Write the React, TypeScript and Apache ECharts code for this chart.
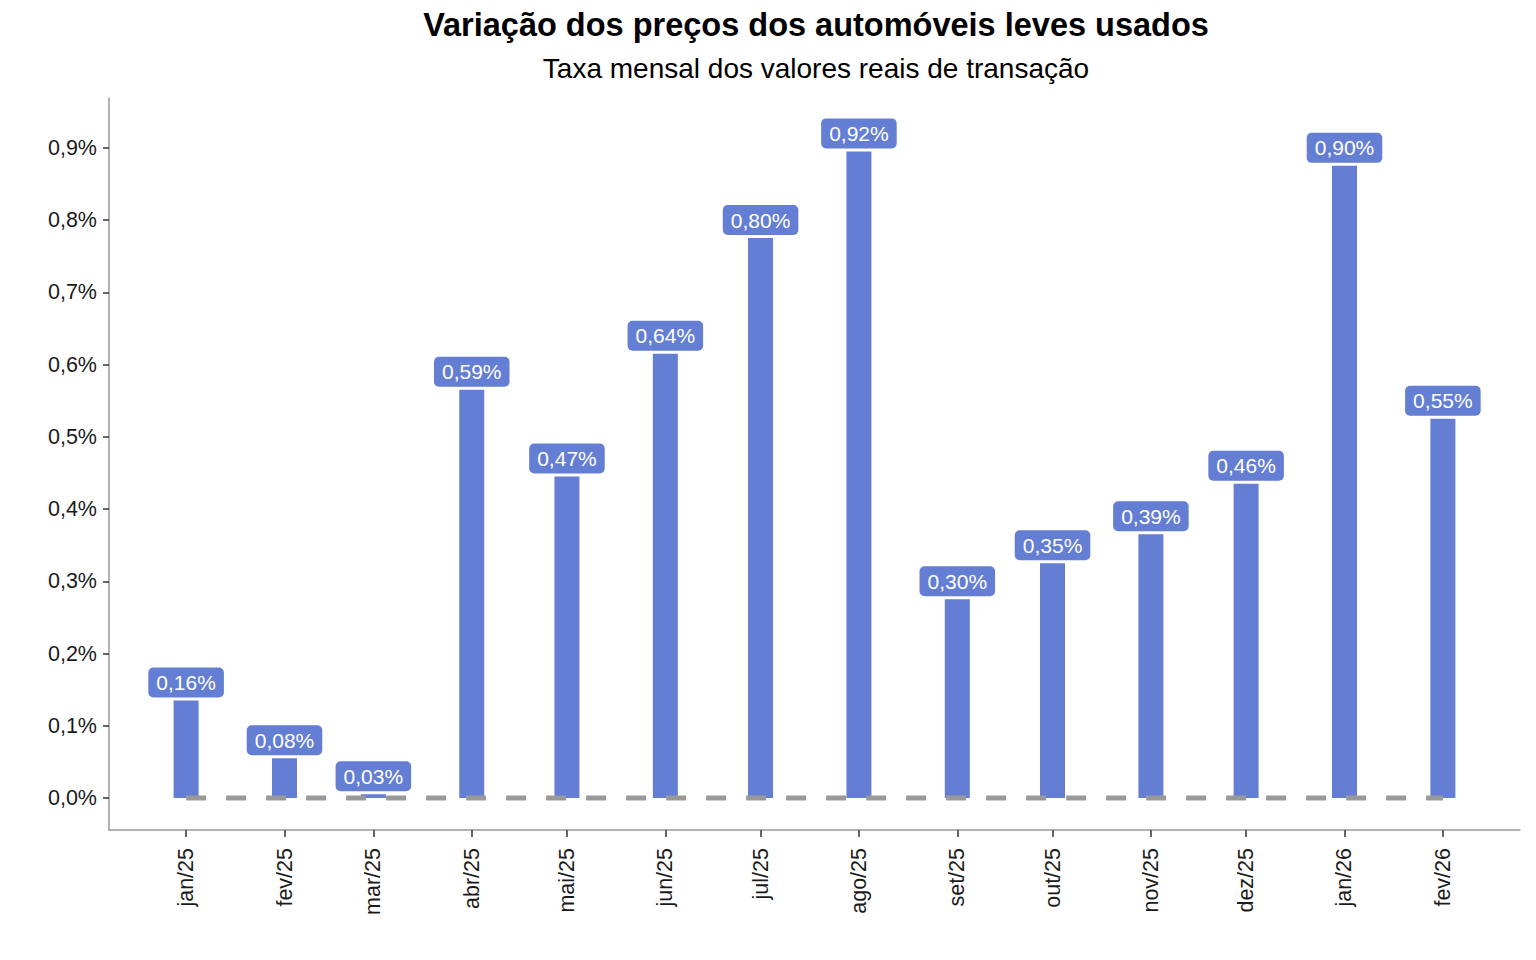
import React, { useEffect, useRef } from "react";
import * as echarts from "echarts";

const TITLE = "Variação dos preços dos automóveis leves usados";
const SUBTITLE = "Taxa mensal dos valores reais de transação";

const monthLabels = [
  "jan/25", "fev/25", "mar/25", "abr/25", "mai/25", "jun/25", "jul/25",
  "ago/25", "set/25", "out/25", "nov/25", "dez/25", "jan/26", "fev/26",
];
const monthDates = [
  "2025-01-01", "2025-02-01", "2025-03-01", "2025-04-01", "2025-05-01", "2025-06-01", "2025-07-01",
  "2025-08-01", "2025-09-01", "2025-10-01", "2025-11-01", "2025-12-01", "2026-01-01", "2026-02-01",
];
const values = [0.16, 0.08, 0.03, 0.59, 0.47, 0.64, 0.80, 0.92, 0.30, 0.35, 0.39, 0.46, 0.90, 0.55];
const yTicks = [0, 0.1, 0.2, 0.3, 0.4, 0.5, 0.6, 0.7, 0.8, 0.9];

const FONT = "'Liberation Sans', Arial, sans-serif";
const BAR = "#637ed3";
const DAY = 86400000;

export default function App() {
  const ref = useRef<HTMLDivElement>(null);
  useEffect(() => {
    if (!ref.current) return;
    const chart = echarts.init(ref.current, null, { renderer: "svg" });
    const ts = monthDates.map((d) => Date.parse(d + "T00:00:00Z"));
    const labelMap: Record<number, string> = {};
    ts.forEach((t, i) => (labelMap[t] = monthLabels[i]));
    const fmtPct = (v: number, d: number) => v.toFixed(d).replace(".", ",") + "%";

    chart.setOption({
      animation: false,
      backgroundColor: "#ffffff",
      textStyle: { fontFamily: FONT },
      graphic: [
        {
          type: "text",
          x: 816,
          y: 25,
          style: {
            text: TITLE,
            fontFamily: FONT,
            fontSize: 32.5,
            fontWeight: "bold",
            fill: "#000",
            textAlign: "center",
            textVerticalAlign: "middle",
          },
        },
        {
          type: "text",
          x: 816,
          y: 68,
          style: {
            text: SUBTITLE,
            fontFamily: FONT,
            fontSize: 28,
            fill: "#000",
            textAlign: "center",
            textVerticalAlign: "middle",
          },
        },
      ],
      grid: { left: 109, right: 16, top: 98, bottom: 130, outerBoundsMode: "none" },
      xAxis: {
        type: "value",
        min: ts[0] - 24.3 * DAY,
        max: ts[ts.length - 1] + 24.3 * DAY,
        splitLine: { show: false },
        axisLine: { show: true, onZero: false, lineStyle: { color: "#999999", width: 1.5 } },
        axisTick: { show: true, customValues: ts, length: 7, lineStyle: { color: "#333333", width: 1.5 } },
        axisLabel: {
          customValues: ts,
          rotate: 90,
          margin: 18,
          fontFamily: FONT,
          fontSize: 21.5,
          color: "#1a1a1a",
          formatter: (v: number) => labelMap[v] ?? "",
        },
      },
      yAxis: {
        type: "value",
        min: -0.0443,
        max: 0.969,
        splitLine: { show: false },
        axisLine: { show: true, lineStyle: { color: "#999999", width: 1.5 } },
        axisTick: { show: true, customValues: yTicks, length: 6, lineStyle: { color: "#333333", width: 1.5 } },
        axisLabel: {
          customValues: yTicks,
          margin: 12,
          fontFamily: FONT,
          fontSize: 21.5,
          color: "#1a1a1a",
          formatter: (v: number) => fmtPct(v, 1),
        },
      },
      series: [
        {
          type: "bar",
          data: ts.map((t, i) => [t, values[i]]),
          barWidth: 25,
          itemStyle: { color: BAR },
          z: 2,
          label: {
            show: true,
            position: "top",
            distance: -15,
            formatter: (p: any) => fmtPct(p.value[1], 2),
            fontFamily: FONT,
            fontSize: 21,
            lineHeight: 21,
            color: "#ffffff",
            backgroundColor: BAR,
            borderColor: "#ffffff",
            borderWidth: 3,
            borderRadius: 5,
            padding: [4.5, 8],
          },
        },
        {
          type: "line",
          data: [[ts[0], 0], [ts[ts.length - 1], 0]],
          symbol: "none",
          z: 3,
          lineStyle: { color: "#999999", width: 5, type: [20, 20] },
          silent: true,
        },
      ],
    });
    return () => chart.dispose();
  }, []);
  return <div ref={ref} style={{ width: 1536, height: 960, position: "absolute", left: 0, top: 0 }} />;
}
